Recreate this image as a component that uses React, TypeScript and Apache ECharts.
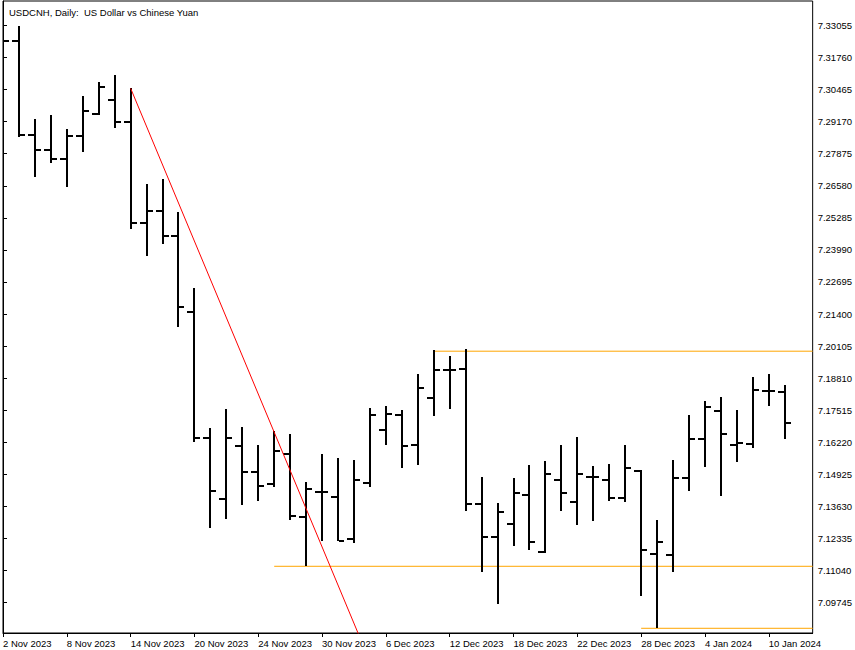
import React, { useEffect, useRef } from "react";
import * as echarts from "echarts";

const dates = [
  "2 Nov 2023", "3 Nov 2023", "6 Nov 2023", "7 Nov 2023", "8 Nov 2023", "9 Nov 2023", "10 Nov 2023",
  "13 Nov 2023", "14 Nov 2023", "15 Nov 2023", "16 Nov 2023", "17 Nov 2023", "20 Nov 2023", "21 Nov 2023",
  "22 Nov 2023", "23 Nov 2023", "24 Nov 2023", "27 Nov 2023", "28 Nov 2023", "29 Nov 2023", "30 Nov 2023",
  "1 Dec 2023", "4 Dec 2023", "5 Dec 2023", "6 Dec 2023", "7 Dec 2023", "8 Dec 2023", "11 Dec 2023",
  "12 Dec 2023", "13 Dec 2023", "14 Dec 2023", "15 Dec 2023", "18 Dec 2023", "19 Dec 2023", "20 Dec 2023",
  "21 Dec 2023", "22 Dec 2023", "25 Dec 2023", "26 Dec 2023", "27 Dec 2023", "28 Dec 2023", "29 Dec 2023",
  "2 Jan 2024", "3 Jan 2024", "4 Jan 2024", "5 Jan 2024", "8 Jan 2024", "9 Jan 2024", "10 Jan 2024", "11 Jan 2024",
];

const opens = [
  7.3250, 7.32441, 7.28644, 7.28026, 7.27675, 7.28604, 7.29480, 7.30046, 7.29169, 7.25089,
  7.25574, 7.24564, 7.21494, 7.16405, 7.13929, 7.16082, 7.15020, 7.14547, 7.15759, 7.13202,
  7.14212, 7.14022, 7.12313, 7.14587, 7.16728, 7.17334, 7.16110, 7.18021, 7.19140, 7.19180,
  7.13715, 7.12406, 7.12907, 7.14103, 7.11800, 7.14708, 7.13820, 7.14818, 7.14708, 7.13981,
  7.15048, 7.11719, 7.11667, 7.14789, 7.16364, 7.17471, 7.16122, 7.16138, 7.18303, 7.18263,
];
const highs = [
  7.3262, 7.33035, 7.29278, 7.29440, 7.28862, 7.30207, 7.30773, 7.31043, 7.30518, 7.26653,
  7.26855, 7.25522, 7.22440, 7.16797, 7.17564, 7.16837, 7.16110, 7.16688, 7.16554, 7.14616,
  7.15747, 7.15585, 7.15504, 7.17605, 7.17685, 7.17524, 7.18978, 7.19947, 7.19705, 7.19988,
  7.14818, 7.13767, 7.14777, 7.15302, 7.15464, 7.16110, 7.16433, 7.15262, 7.15343, 7.16110,
  7.15088, 7.13081, 7.15504, 7.17322, 7.17887, 7.18049, 7.17524, 7.18857, 7.18990, 7.18534,
];
const lows = [
  7.3240, 7.28563, 7.26948, 7.27489, 7.26544, 7.27957, 7.29460, 7.28903, 7.24823, 7.23757,
  7.24217, 7.20889, 7.16243, 7.12770, 7.13121, 7.13699, 7.13860, 7.14401, 7.13093, 7.11223,
  7.12245, 7.12232, 7.12164, 7.14426, 7.16110, 7.15193, 7.15314, 7.17294, 7.17576, 7.13456,
  7.10992, 7.09688, 7.12042, 7.11881, 7.11735, 7.13456, 7.12891, 7.13052, 7.13860, 7.13820,
  7.10011, 7.08730, 7.10992, 7.14264, 7.15234, 7.14062, 7.15436, 7.15977, 7.17697, 7.16340,
];
const closes = [
  7.32441, 7.28644, 7.28026, 7.27675, 7.28604, 7.29614, 7.30583, 7.29169, 7.25089, 7.25574,
  7.24564, 7.21672, 7.16405, 7.14264, 7.16405, 7.15020, 7.14466, 7.15880, 7.13242, 7.14333,
  7.14212, 7.12245, 7.14696, 7.17322, 7.17362, 7.16082, 7.18425, 7.19152, 7.19140, 7.13715,
  7.12406, 7.13416, 7.14183, 7.12180, 7.14951, 7.14183, 7.14951, 7.14830, 7.13969, 7.15169,
  7.11869, 7.12204, 7.14789, 7.16340, 7.17657, 7.16566, 7.16191, 7.18344, 7.18303, 7.17011,
];

const yTicks = [
  7.09745, 7.11040, 7.12335, 7.13630, 7.14925, 7.16220, 7.17515, 7.18810, 7.20105, 7.21400,
  7.22695, 7.23990, 7.25285, 7.26580, 7.27875, 7.29170, 7.30465, 7.31760, 7.33055,
];

// trend line anchors: [bar index, price]
const trendIdx = [8, 23];
const trendVal = [7.30518, 7.07361];

// horizontal levels: start bar index and price
const levelStart = [27, 17, 40];
const levelVal = [7.19899, 7.11211, 7.08706];

const X_MAX = 50.75;
const Y_MIN = 7.08516;
const Y_MAX = 7.34045;
const FONT = "'Liberation Sans', Arial, sans-serif";

export default function App() {
  const ref = useRef<HTMLDivElement>(null);
  useEffect(() => {
    document.body.style.margin = "0";
    const chart = echarts.init(ref.current!, null, { renderer: "svg" });
    const barData = dates.map((_, i) => [i, opens[i], highs[i], lows[i], closes[i]]);
    const levelSeries = levelStart.map((s, k) => ({
      type: "line",
      data: [[s, levelVal[k]], [X_MAX, levelVal[k]]],
      symbol: "none",
      lineStyle: { color: "#FFA500", width: 1 },
      silent: true,
      z: 1,
    }));
    chart.setOption({
      animation: false,
      backgroundColor: "#ffffff",
      title: {
        text: "USDCNH, Daily:  US Dollar vs Chinese Yuan",
        left: 4,
        top: 2,
        textStyle: { fontSize: 9.5, fontWeight: "normal", color: "#000", fontFamily: FONT },
      },
      grid: {
        left: 1,
        right: 42,
        top: 1,
        bottom: 17,
        show: true,
        borderColor: "#000",
        borderWidth: 1,
        backgroundColor: "#fff",
      },
      xAxis: {
        type: "value",
        min: 0,
        max: X_MAX,
        splitLine: { show: false },
        axisLine: { show: true, lineStyle: { color: "#000", width: 1 } },
        axisTick: {
          show: true,
          length: 4,
          lineStyle: { color: "#000" },
          customValues: dates.map((_, i) => i).filter((i) => i % 4 === 0),
        },
        axisLabel: {
          show: true,
          customValues: dates.map((_, i) => i).filter((i) => i % 4 === 0),
          formatter: (v: number) => dates[Math.round(v)] ?? "",
          align: "left",
          margin: 5,
          color: "#000",
          fontSize: 9.5,
          fontFamily: FONT,
        },
      },
      yAxis: {
        type: "value",
        position: "right",
        min: Y_MIN,
        max: Y_MAX,
        scale: true,
        splitLine: { show: false },
        axisLine: { show: true, lineStyle: { color: "#000", width: 1 } },
        axisTick: {
          show: true,
          length: 4,
          lineStyle: { color: "#000" },
          customValues: yTicks,
        },
        axisLabel: {
          show: true,
          customValues: yTicks,
          formatter: (v: number) => v.toFixed(5),
          margin: 5,
          color: "#000",
          fontSize: 9.5,
          fontFamily: FONT,
        },
      },
      series: [
        ...levelSeries,
        {
          type: "line",
          data: trendIdx.map((x, k) => [x, trendVal[k]]),
          symbol: "none",
          lineStyle: { color: "#FF0000", width: 1 },
          silent: true,
          clip: true,
          z: 3,
        },
        {
          type: "custom",
          data: barData,
          clip: true,
          z: 2,
          encode: { x: 0, y: [1, 2, 3, 4] },
          renderItem: (params: any, api: any) => {
            const i = api.value(0);
            const pH = api.coord([i, api.value(2)]);
            const pL = api.coord([i, api.value(3)]);
            const pO = api.coord([i, api.value(1)]);
            const pC = api.coord([i, api.value(4)]);
            const cx = Math.round(pH[0]);
            const yH = Math.round(pH[1]);
            const yL = Math.round(pL[1]);
            const yO = Math.round(pO[1]);
            const yC = Math.round(pC[1]);
            return {
              type: "group",
              children: [
                { type: "rect", shape: { x: cx - 1, y: yH, width: 2, height: Math.max(1, yL - yH) }, style: { fill: "#000" } },
                { type: "rect", shape: { x: cx - 7, y: yO - 1, width: 6, height: 2 }, style: { fill: "#000" } },
                { type: "rect", shape: { x: cx + 1, y: yC - 1, width: 5, height: 2 }, style: { fill: "#000" } },
              ],
            };
          },
        },
      ],
    });
    return () => chart.dispose();
  }, []);
  return <div ref={ref} style={{ width: 855, height: 650, background: "#fff" }} />;
}
